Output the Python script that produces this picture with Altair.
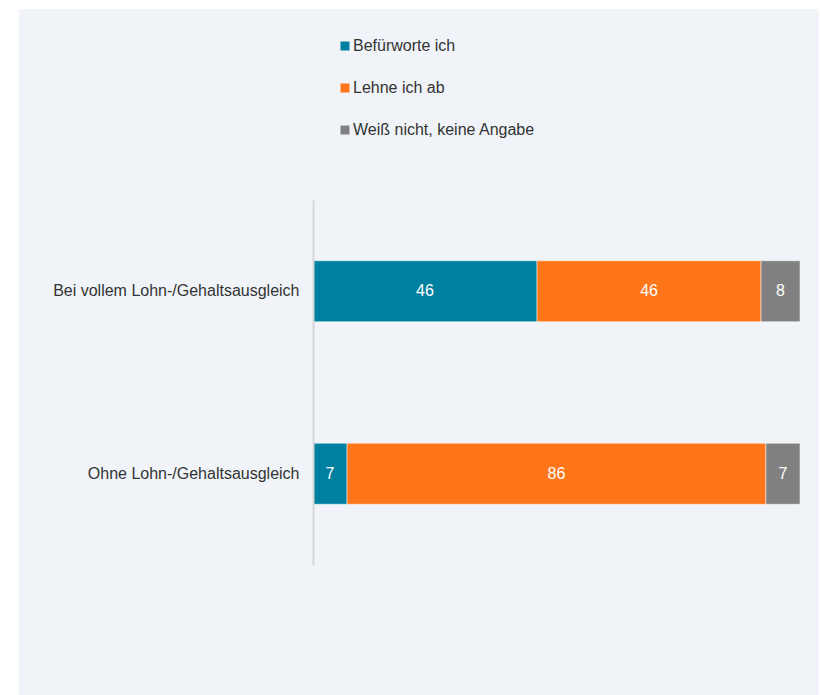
import altair as alt
import pandas as pd

categories = ["Bei vollem Lohn-/Gehaltsausgleich", "Ohne Lohn-/Gehaltsausgleich"]
series = ["Befürworte ich", "Lehne ich ab", "Weiß nicht, keine Angabe"]
befuerworte = [46, 7]
lehne_ab = [46, 86]
weiss_nicht = [8, 7]
colors = ["#0080a0", "#ff761a", "#808080"]

rows = []
for i, cat in enumerate(categories):
    for j, (s, vals) in enumerate(zip(series, [befuerworte, lehne_ab, weiss_nicht])):
        rows.append({"Kategorie": cat, "Antwort": s, "Wert": vals[i], "Ordnung": j})
df = pd.DataFrame(rows)

FONT = "Liberation Sans"

panel = alt.Chart(pd.DataFrame({"p": [0]})).mark_rect(color="#f0f4f8").encode(
    x=alt.value(-294), x2=alt.value(506), y=alt.value(-191), y2=alt.value(495)
)

base = alt.Chart(df).transform_stack(
    stack="Wert", groupby=["Kategorie"], as_=["start", "end"],
    sort=[alt.SortField("Ordnung", order="ascending")]
).transform_calculate(mid="(datum.start + datum.end) / 2")

yenc = alt.Y(
    "Kategorie:N", sort=categories, title=None,
    scale=alt.Scale(paddingInner=0, paddingOuter=0),
    axis=alt.Axis(ticks=False, domain=True, domainColor="#d6d6d6", domainWidth=2,
                  labelFont=FONT, labelFontSize=16, labelColor="#333333",
                  labelPadding=14, labelLimit=400, zindex=1),
)

bars = base.mark_bar(size=61, stroke="#ffffff", strokeWidth=0.5).encode(
    x=alt.X("start:Q", scale=alt.Scale(domain=[0, 100]), axis=None),
    x2="end:Q",
    y=yenc,
    color=alt.Color(
        "Antwort:N", sort=series,
        scale=alt.Scale(domain=series, range=colors),
        legend=alt.Legend(
            title=None, orient="none", legendX=24, legendY=-162, direction="vertical",
            symbolType="square", symbolSize=81, symbolStrokeWidth=0, symbolOpacity=1,
            labelFont=FONT, labelFontSize=16, labelColor="#333333",
            labelOffset=0, rowPadding=26, labelLimit=400,
        ),
    ),
)

labels = base.mark_text(color="#ffffff", font=FONT, fontSize=16).encode(
    x=alt.X("mid:Q", scale=alt.Scale(domain=[0, 100]), axis=None),
    y=alt.Y("Kategorie:N", sort=categories),
    text="Wert:Q",
)

chart = alt.layer(panel, bars, labels).properties(
    width=487, height=365,
    background="#ffffff",
    padding={"left": 313, "top": 200, "right": 20, "bottom": 130},
    autosize=alt.AutoSizeParams(type="none"),
).configure_view(strokeWidth=0)

chart.save("out.html", embed_options={"renderer": "svg", "actions": False})
